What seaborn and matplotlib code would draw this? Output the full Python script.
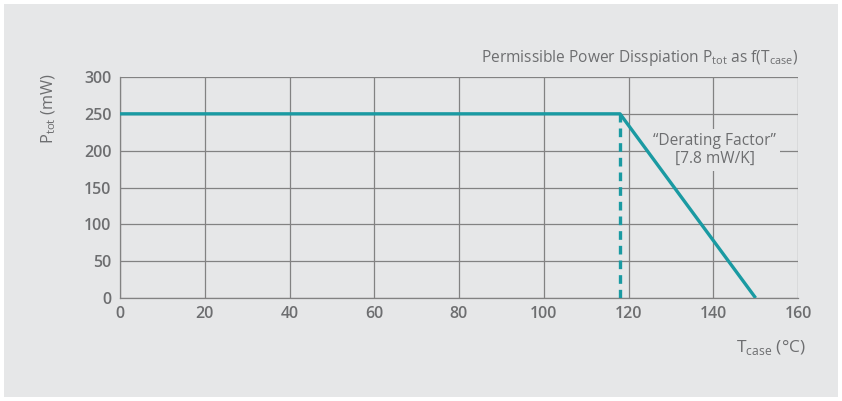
import matplotlib
matplotlib.use("Agg")
import matplotlib.pyplot as plt
import seaborn as sns
import pandas as pd
from matplotlib.patches import Rectangle

# Data
temps = [0, 118, 150]
power = [250, 250, 0]
knee_temp = [118, 118]
knee_power = [0, 250]
x_ticks = [0, 20, 40, 60, 80, 100, 120, 140, 160]
y_ticks = [0, 50, 100, 150, 200, 250, 300]

bg = "#e6e7e8"
teal = "#1a9aa2"
grid_c = "#828282"
text_c = "#6d6e70"

sns.set_style("white")
plt.rcParams["font.family"] = ["Open Sans", "DejaVu Sans"]
plt.rcParams["mathtext.fontset"] = "custom"
plt.rcParams["mathtext.rm"] = "Open Sans"

fig = plt.figure(figsize=(8.42, 4.01), dpi=100)
fig.patch.set_facecolor("white")
fig.patches.append(Rectangle((4 / 842, 4 / 401), 834 / 842, 393 / 401,
                             transform=fig.transFigure, facecolor=bg,
                             edgecolor="none", zorder=-10))

ax = fig.add_axes([120 / 842, 1 - 298 / 401, 678 / 842, 221 / 401])
ax.set_facecolor(bg)

df = pd.DataFrame({"T": temps, "P": power})
sns.lineplot(data=df, x="T", y="P", ax=ax, color=teal, linewidth=2.4,
             solid_capstyle="butt", zorder=5)
ax.plot(knee_temp, knee_power, color=teal, linewidth=2.4,
        linestyle=(0, (2.6, 1.8)), zorder=5)

ax.set_xlim(0, 160)
ax.set_ylim(0, 300)
ax.set_xticks(x_ticks)
ax.set_yticks(y_ticks)
ax.grid(True, color=grid_c, linewidth=0.9)
ax.set_axisbelow(True)
for s in ["top", "right"]:
    ax.spines[s].set_visible(False)
for s in ["left", "bottom"]:
    ax.spines[s].set_color(grid_c)
    ax.spines[s].set_linewidth(0.9)
ax.tick_params(length=0, labelsize=11.5, labelcolor=text_c, pad=6)
for lab in ax.get_xticklabels() + ax.get_yticklabels():
    lab.set_fontweight("semibold")

ax.set_ylabel(r"P$_{\mathregular{tot}}$ (mW)", fontsize=11.8, color=text_c,
              loc="top")
ax.yaxis.set_label_coords(-0.092, 1.02)
ax.set_xlabel(r"T$_{\mathregular{case}}$ (°C)", fontsize=12.5, color=text_c,
              loc="right")
ax.xaxis.set_label_coords((806 - 120) / 678, -0.18)

fig.text(798 / 842, 1 - 58 / 401,
         r"Permissible Power Disspiation P$_{\mathregular{tot}}$ as f(T$_{\mathregular{case}}$)",
         ha="right", va="center", fontsize=11.2, color=text_c)

ax.text(140.3, 201, "\u201cDerating Factor\u201d\n[7.8 mW/K]", ha="center",
        va="center", fontsize=11.2, color=text_c, linespacing=1.15, zorder=4,
        bbox=dict(facecolor=bg, edgecolor="none", pad=3))

fig.savefig("out.png", dpi=100, facecolor=fig.get_facecolor())
